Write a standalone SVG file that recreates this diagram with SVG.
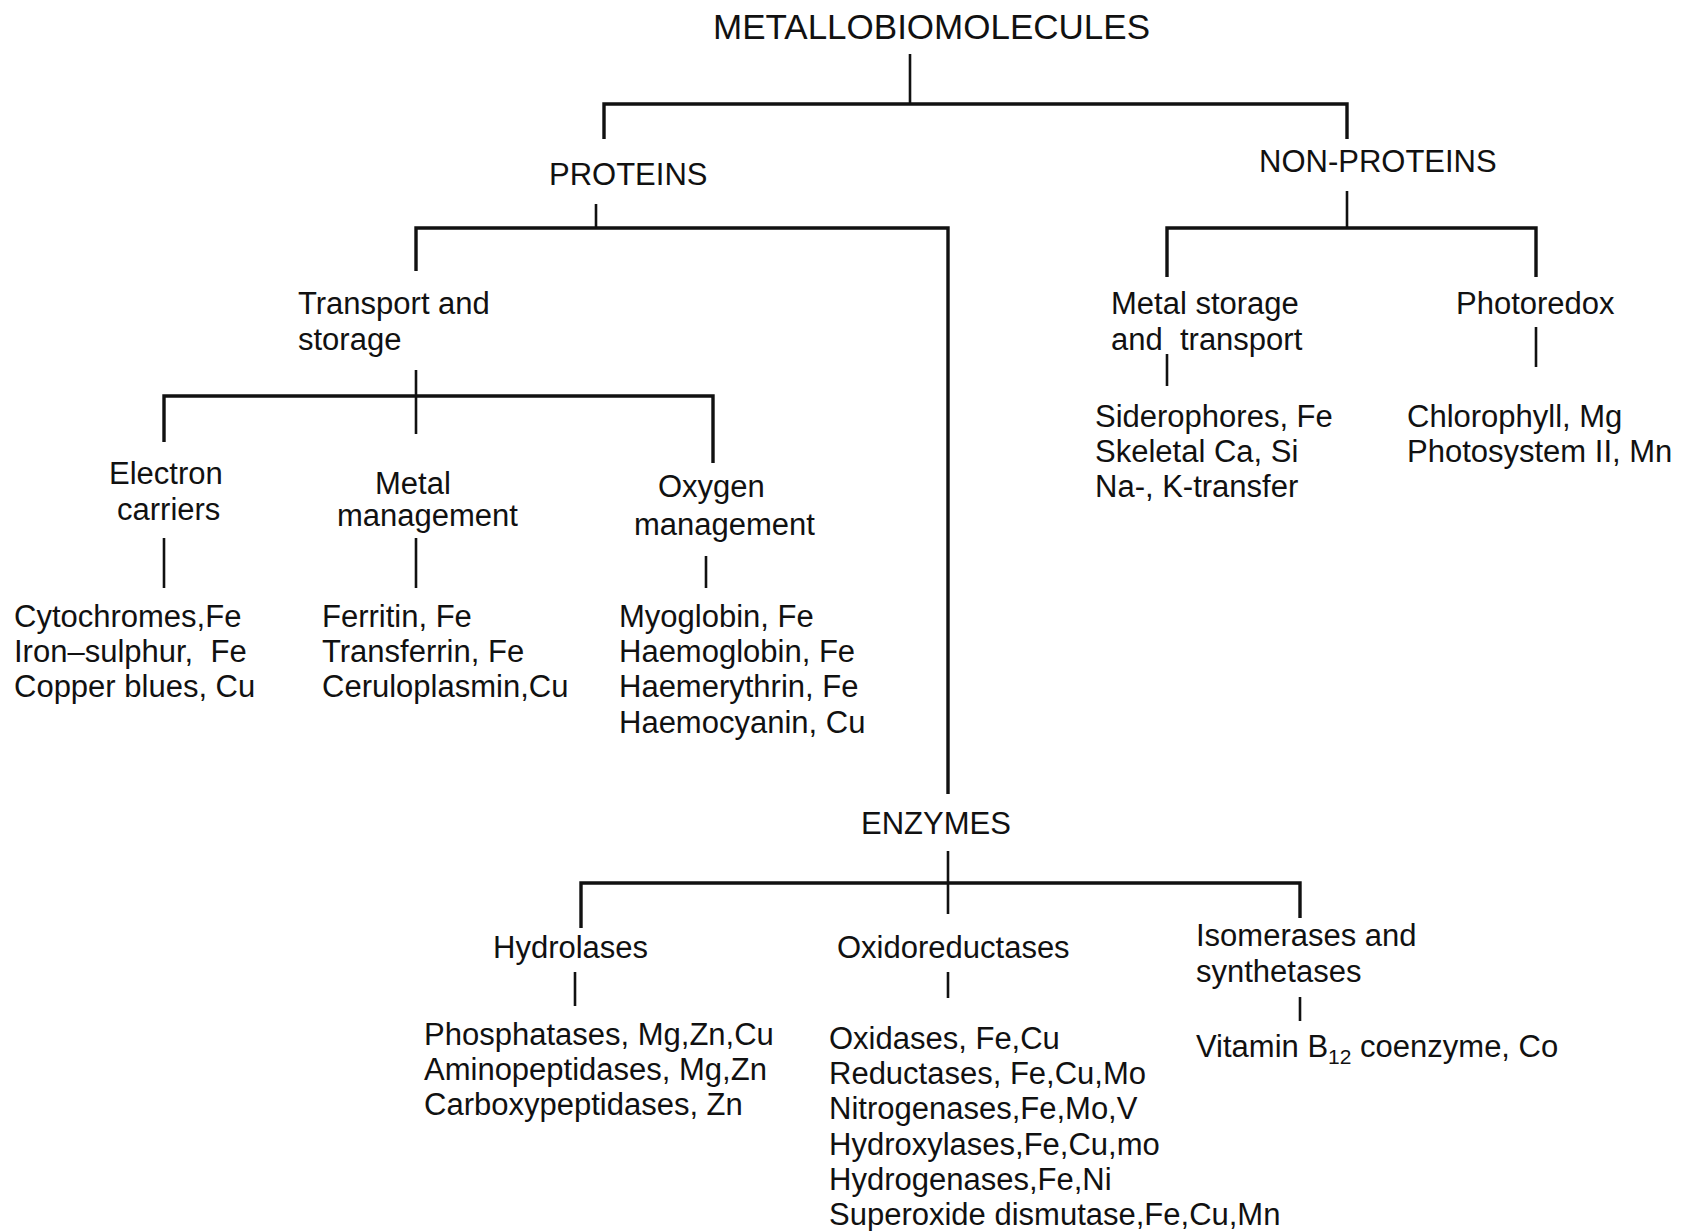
<svg xmlns="http://www.w3.org/2000/svg" width="1682" height="1231" viewBox="0 0 1682 1231">
  <style>
    text { font-family: "Liberation Sans", Arial, Helvetica, sans-serif; font-size: 31px; fill: #111; }
    .title { font-size: 35px; }
    .conn path { fill: none; stroke: #111; stroke-width: 2.6; }
    .conn path.bar { stroke-width: 3.4; }
  </style>
  <rect width="1682" height="1231" fill="#fff"/>

  <!-- tree connectors -->
  <g class="conn">
    <path d="M910,54 V104"/>
    <path class="bar" d="M604,139 V104 H1347 V139"/>
    <path d="M596,204 V228"/>
    <path class="bar" d="M416,271 V228 H948 V794"/>
    <path d="M1347,191 V228"/>
    <path class="bar" d="M1167,277 V228 H1536 V277"/>
    <path d="M1167,354 V386"/>
    <path d="M1536,327 V367"/>
    <path d="M416,370 V434"/>
    <path class="bar" d="M164,442 V396 H713 V463"/>
    <path d="M164,538 V588"/>
    <path d="M416,538 V588"/>
    <path d="M706,556 V588"/>
    <path d="M948,851 V914"/>
    <path class="bar" d="M581,928 V883 H1300 V918"/>
    <path d="M575,972 V1006"/>
    <path d="M948,972 V998"/>
    <path d="M1300,997 V1021"/>
  </g>

  <g id="root"><text class="title" x="713" y="39">METALLOBIOMOLECULES</text></g>

  <g id="proteins"><text x="549" y="185">PROTEINS</text></g>
  <g id="non-proteins"><text x="1259" y="172">NON-PROTEINS</text></g>

  <g id="transport-storage">
    <text x="298" y="314">Transport and</text>
    <text x="298" y="350">storage</text>
  </g>

  <g id="metal-storage-transport">
    <text x="1111" y="314">Metal storage</text>
    <text x="1111" y="350" xml:space="preserve">and  transport</text>
  </g>
  <g id="photoredox"><text x="1456" y="314">Photoredox</text></g>

  <g id="metal-storage-examples">
    <text x="1095" y="427">Siderophores, Fe</text>
    <text x="1095" y="462">Skeletal Ca, Si</text>
    <text x="1095" y="497">Na-, K-transfer</text>
  </g>
  <g id="photoredox-examples">
    <text x="1407" y="427">Chlorophyll, Mg</text>
    <text x="1407" y="462">Photosystem II, Mn</text>
  </g>

  <g id="electron-carriers">
    <text x="109" y="484">Electron</text>
    <text x="117" y="520">carriers</text>
  </g>
  <g id="metal-management">
    <text x="375" y="494">Metal</text>
    <text x="337" y="526">management</text>
  </g>
  <g id="oxygen-management">
    <text x="658" y="497">Oxygen</text>
    <text x="634" y="535">management</text>
  </g>

  <g id="electron-carrier-examples">
    <text x="14" y="627">Cytochromes,Fe</text>
    <text x="14" y="662" xml:space="preserve">Iron–sulphur,  Fe</text>
    <text x="14" y="697">Copper blues, Cu</text>
  </g>
  <g id="metal-management-examples">
    <text x="322" y="627">Ferritin, Fe</text>
    <text x="322" y="662">Transferrin, Fe</text>
    <text x="322" y="697">Ceruloplasmin,Cu</text>
  </g>
  <g id="oxygen-management-examples">
    <text x="619" y="627">Myoglobin, Fe</text>
    <text x="619" y="662">Haemoglobin, Fe</text>
    <text x="619" y="697">Haemerythrin, Fe</text>
    <text x="619" y="733">Haemocyanin, Cu</text>
  </g>

  <g id="enzymes"><text x="861" y="834">ENZYMES</text></g>

  <g id="hydrolases"><text x="493" y="958">Hydrolases</text></g>
  <g id="oxidoreductases"><text x="837" y="958">Oxidoreductases</text></g>
  <g id="isomerases-synthetases">
    <text x="1196" y="946">Isomerases and</text>
    <text x="1196" y="982">synthetases</text>
  </g>

  <g id="hydrolase-examples">
    <text x="424" y="1045">Phosphatases, Mg,Zn,Cu</text>
    <text x="424" y="1080">Aminopeptidases, Mg,Zn</text>
    <text x="424" y="1115">Carboxypeptidases, Zn</text>
  </g>
  <g id="oxidoreductase-examples">
    <text x="829" y="1049">Oxidases, Fe,Cu</text>
    <text x="829" y="1084">Reductases, Fe,Cu,Mo</text>
    <text x="829" y="1119">Nitrogenases,Fe,Mo,V</text>
    <text x="829" y="1155">Hydroxylases,Fe,Cu,mo</text>
    <text x="829" y="1190">Hydrogenases,Fe,Ni</text>
    <text x="829" y="1225">Superoxide dismutase,Fe,Cu,Mn</text>
  </g>
  <g id="isomerase-examples">
    <text x="1196" y="1057">Vitamin B<tspan font-size="21" dy="7">12</tspan><tspan dy="-7"> coenzyme, Co</tspan></text>
  </g>
</svg>
